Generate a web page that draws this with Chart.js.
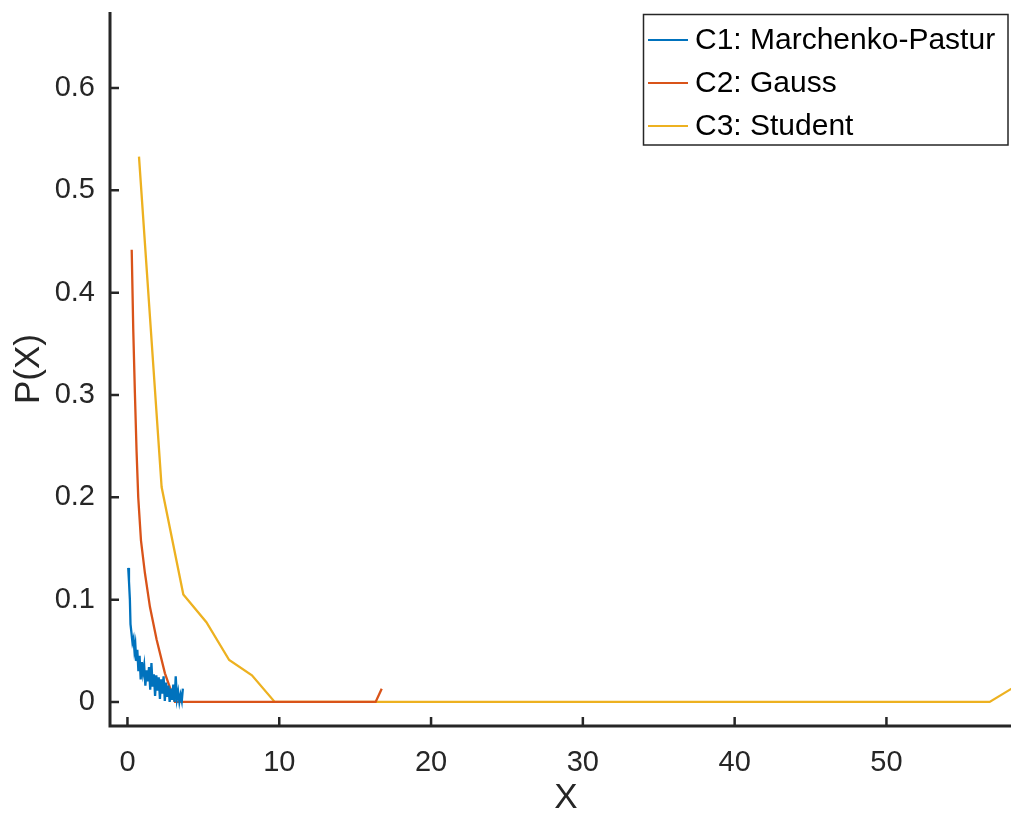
<!DOCTYPE html>
<html>
<head>
<meta charset="utf-8">
<script src="https://cdn.jsdelivr.net/npm/chart.js@4.4.1/dist/chart.umd.min.js"></script>
<style>
  html, body { margin: 0; padding: 0; background: #ffffff; overflow: hidden; }
  #wrap { position: absolute; left: 0; top: 0; width: 1022px; height: 816px; }
</style>
</head>
<body>
<div id="wrap"><canvas id="c" width="1022" height="816"></canvas></div>
<script>
// ---------- data ----------
const seriesNames = ['C1: Marchenko-Pastur', 'C2: Gauss', 'C3: Student'];
const seriesColors = ['#0072BD', '#D95319', '#EDB120'];

const c1X = [0.05,0.10,0.16,0.20,0.26,0.33,0.40,0.46,0.52,0.58,0.65,0.72,0.80,0.87,0.95,1.02,1.10,1.18,1.26,1.34,
             1.42,1.50,1.58,1.66,1.74,1.82,1.90,1.98,2.06,2.14,2.22,2.30,2.38,2.46,2.54,2.62,2.70,2.78,2.86,2.94,
             3.02,3.10,3.18,3.26,3.34,3.42,3.50,3.58,3.65];
const c1Y = [0.131,0.118,0.100,0.076,0.068,0.058,0.062,0.050,0.056,0.040,0.051,0.030,0.045,0.022,0.039,0.028,0.036,0.016,0.031,0.020,
             0.034,0.012,0.038,0.015,0.027,0.006,0.026,0.011,0.024,0.003,0.022,0.008,0.025,0.001,0.019,0.005,0.016,0.000,0.013,0.002,
             0.017,0.000,0.025,0.003,0.010,0.000,0.007,0.001,0.013];

const c2X = [0.28,0.38,0.49,0.60,0.71,0.89,1.15,1.48,1.92,2.47,3.13,16.35,16.75];
const c2Y = [0.442,0.365,0.302,0.245,0.200,0.158,0.126,0.093,0.061,0.028,0.000,0.000,0.013];

const c3X = [0.76,2.25,3.68,5.20,6.70,8.20,9.70,56.80,58.30];
const c3Y = [0.533,0.210,0.105,0.078,0.041,0.026,0.000,0.000,0.0135];

const xTicks = [0, 10, 20, 30, 40, 50];
const yTicks = [0, 0.1, 0.2, 0.3, 0.4, 0.5, 0.6];
const xRange = [-1.15, 58.93];
const yRange = [-0.0235, 0.6743];
const xTitle = 'X';
const yTitle = 'P(X)';

// ---------- build ----------
function pairs(xs, ys) { return xs.map((x, i) => ({ x: x, y: ys[i] })); }
const seriesData = [pairs(c1X, c1Y), pairs(c2X, c2Y), pairs(c3X, c3Y)];

const AX = '#262626';
const FONT = '"Liberation Sans", Arial, Helvetica, sans-serif';

const axesPlugin = {
  id: 'matlabAxes',
  afterDatasetsDraw(chart) {
    const { ctx, chartArea: a, scales } = chart;
    ctx.save();
    ctx.strokeStyle = AX;
    ctx.lineWidth = 3;
    ctx.lineCap = 'butt';
    ctx.beginPath();
    ctx.moveTo(a.left, a.top);
    ctx.lineTo(a.left, a.bottom + 1.5);
    ctx.moveTo(a.left - 1.5, a.bottom);
    ctx.lineTo(a.right, a.bottom);
    ctx.stroke();
    ctx.lineWidth = 2.5;
    ctx.beginPath();
    yTicks.forEach(v => {
      const p = scales.y.getPixelForValue(v);
      ctx.moveTo(a.left, p); ctx.lineTo(a.left + 9, p);
    });
    xTicks.forEach(v => {
      const p = scales.x.getPixelForValue(v);
      ctx.moveTo(p, a.bottom); ctx.lineTo(p, a.bottom - 9);
    });
    ctx.stroke();
    ctx.restore();
  }
};

const legendPlugin = {
  id: 'matlabLegend',
  afterDraw(chart) {
    const { ctx } = chart;
    const bx = 643.5, by = 14.5, bw = 364.5, bh = 130.5;
    ctx.save();
    ctx.fillStyle = '#ffffff';
    ctx.fillRect(bx, by, bw, bh);
    ctx.strokeStyle = AX;
    ctx.lineWidth = 1.5;
    ctx.strokeRect(bx, by, bw, bh);
    const rows = [40, 83, 126];
    ctx.font = '30px ' + FONT;
    ctx.textBaseline = 'middle';
    ctx.textAlign = 'left';
    chart.data.datasets.forEach((ds, i) => {
      const yy = rows[i];
      ctx.strokeStyle = ds.borderColor;
      ctx.lineWidth = 2;
      ctx.beginPath();
      ctx.moveTo(648, yy); ctx.lineTo(688, yy);
      ctx.stroke();
      ctx.fillStyle = '#000000';
      ctx.fillText(ds.label, 695, yy + 1);
    });
    ctx.restore();
  }
};

new Chart(document.getElementById('c'), {
  type: 'line',
  data: {
    datasets: seriesNames.map((name, i) => ({
      label: name,
      data: seriesData[i],
      borderColor: seriesColors[i],
      backgroundColor: seriesColors[i],
      borderWidth: 2.3,
      pointRadius: 0,
      tension: 0,
      fill: false
    }))
  },
  options: {
    responsive: false,
    animation: false,
    events: [],
    layout: { padding: { top: 12, right: 0, left: 0, bottom: 0 } },
    plugins: { legend: { display: false }, tooltip: { enabled: false } },
    scales: {
      x: {
        type: 'linear',
        min: xRange[0], max: xRange[1],
        grid: { display: false, drawTicks: false },
        border: { display: false },
        afterFit: s => { s.height = 90; s.paddingLeft = 0; s.paddingRight = 0; },
        afterBuildTicks: s => { s.ticks = xTicks.map(v => ({ value: v })); },
        ticks: {
          padding: 20, color: AX, maxRotation: 0, autoSkip: false,
          font: { family: FONT, size: 29 },
          callback: v => String(v)
        },
        title: {
          display: true, text: xTitle, color: AX,
          font: { family: FONT, size: 35, lineHeight: 1 },
          padding: { top: 0, bottom: 0 }
        }
      },
      y: {
        type: 'linear',
        min: yRange[0], max: yRange[1],
        grid: { display: false, drawTicks: false },
        border: { display: false },
        afterFit: s => { s.width = 110; s.paddingTop = 0; s.paddingBottom = 0; },
        afterBuildTicks: s => { s.ticks = yTicks.map(v => ({ value: v })); },
        ticks: {
          padding: 15, color: AX, autoSkip: false,
          font: { family: FONT, size: 29 },
          callback: v => (v === 0 ? '0' : Number(v).toFixed(1))
        },
        title: {
          display: true, text: yTitle, color: AX,
          font: { family: FONT, size: 35, lineHeight: 1 },
          padding: { top: 12, bottom: 0 }
        }
      }
    }
  },
  plugins: [axesPlugin, legendPlugin]
});
</script>
</body>
</html>
